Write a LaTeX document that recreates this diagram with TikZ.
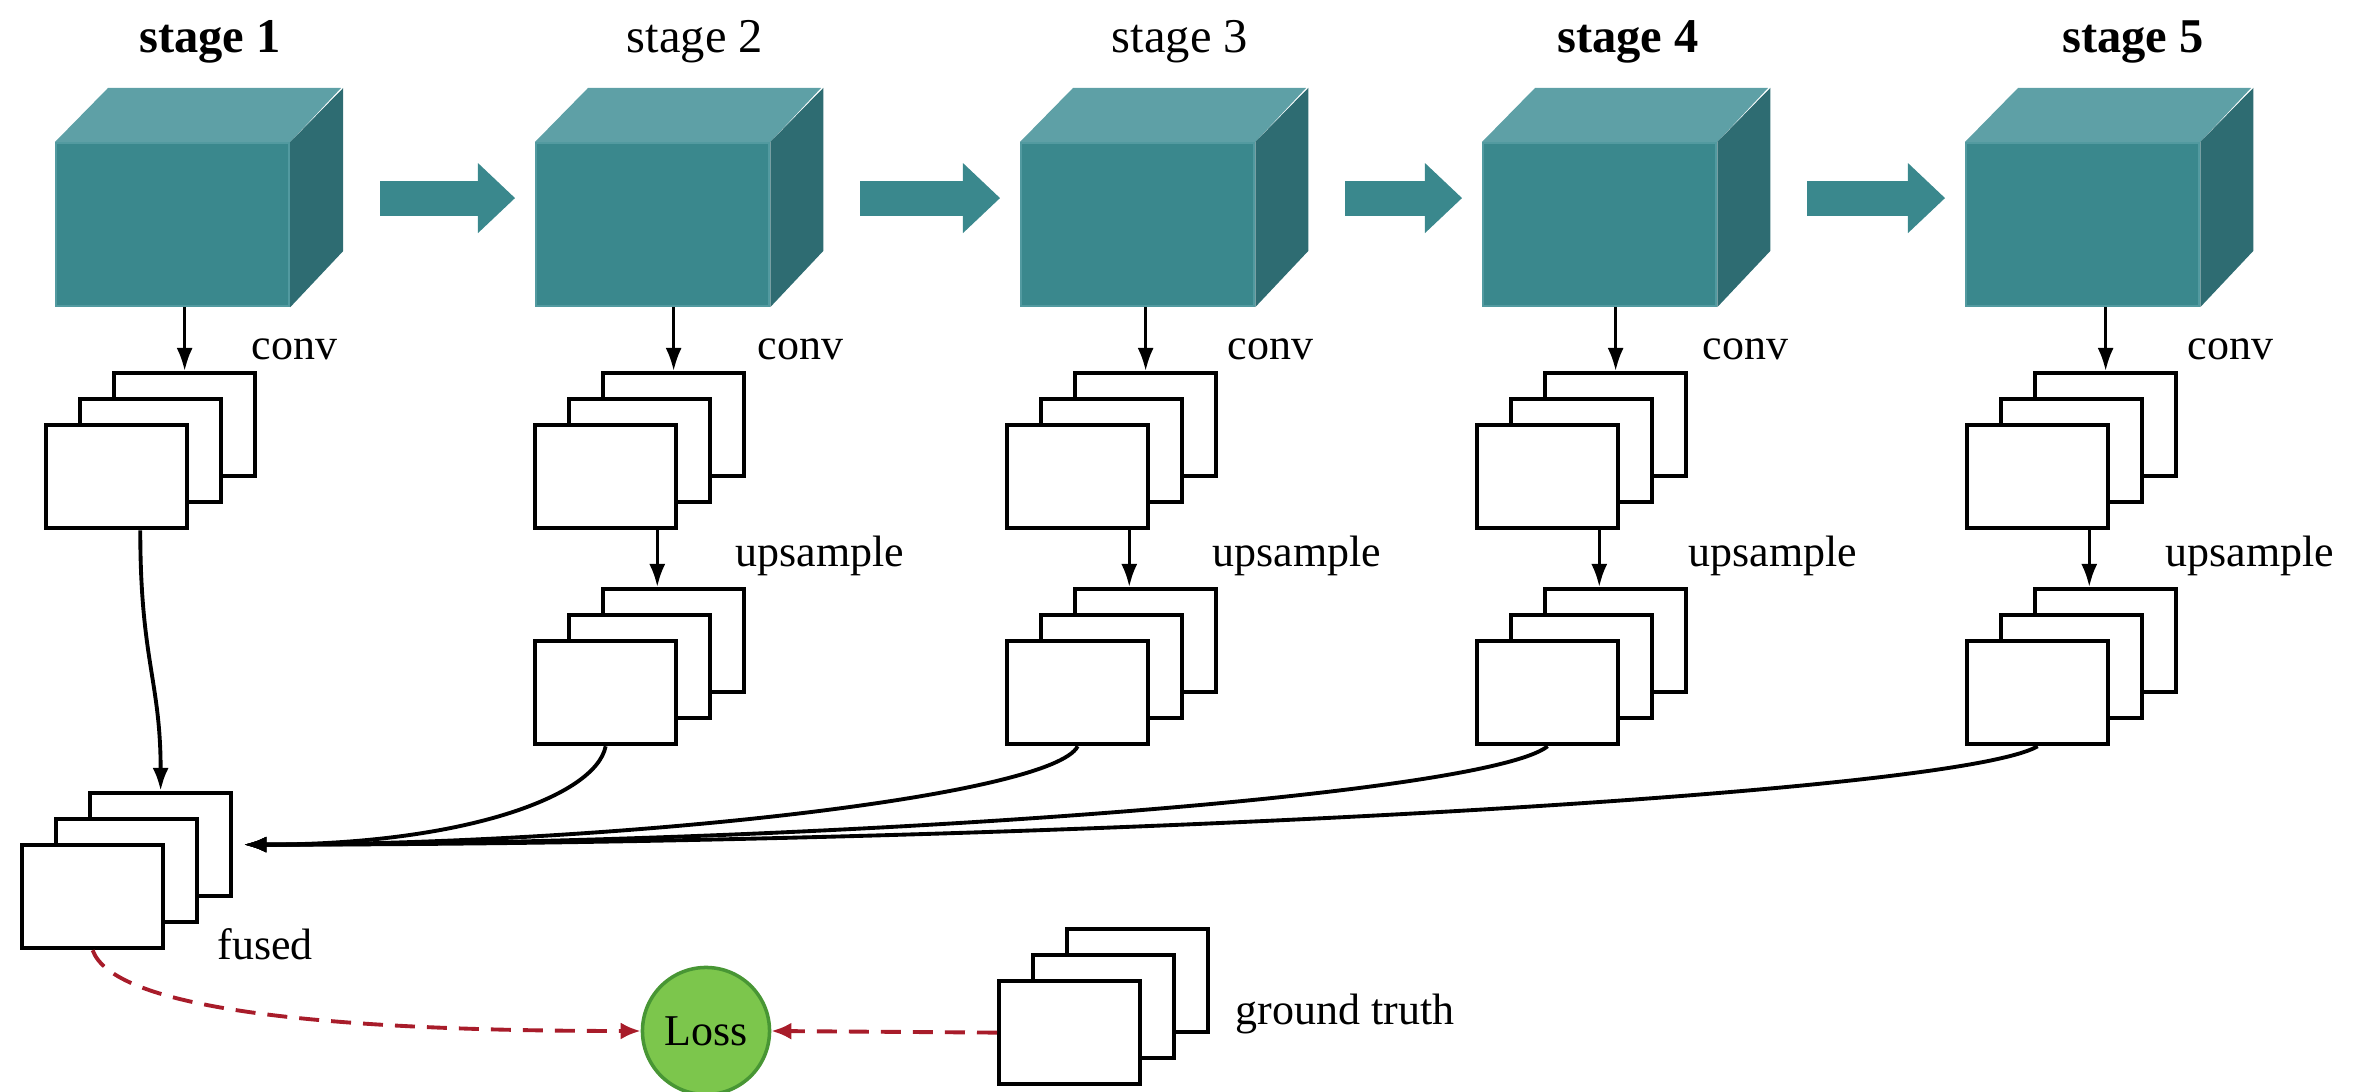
\documentclass[tikz,border=0pt]{standalone}
\usepackage{fontspec}
\setmainfont{Liberation Serif}
\usetikzlibrary{positioning,arrows.meta,calc}
\definecolor{tealfront}{RGB}{58,136,141}
\definecolor{tealtop}{RGB}{94,160,166}
\definecolor{tealside}{RGB}{46,108,114}
\definecolor{tealedge}{RGB}{82,154,160}
\definecolor{lossgreen}{RGB}{124,198,76}
\definecolor{lossedge}{RGB}{72,150,52}
\definecolor{dashred}{RGB}{168,28,42}

\tikzset{
  cubefront/.style={rectangle, fill=tealfront, draw=tealedge, line width=0.6pt,
    minimum width=2.33cm, minimum height=1.63cm, inner sep=0pt, anchor=north west},
  fmap/.style={rectangle, draw, fill=white, line width=1.2pt,
    minimum width=1.41cm, minimum height=1.03cm, inner sep=0pt, anchor=north west},
  arr/.style={-{Latex[length=2.3mm,width=1.6mm]}, line width=0.9pt},
  fuse/.style={arr, line width=1.1pt},
  fatarrow/.style={-{Triangle[length=0.37cm,width=0.7cm,line width=0pt]},
    line width=0.35cm, draw=tealfront},
  lossarr/.style={-{Latex[length=2mm,width=1.7mm]}, dash pattern=on 0.2cm off 0.12cm,
    line width=1.1pt, draw=dashred},
  stagelbl/.style={font=\fontsize{13.8}{16}\selectfont, inner sep=0pt, anchor=base},
  lbl/.style={font=\fontsize{12.5}{15}\selectfont, inner sep=0pt, anchor=base west},
  lossnode/.style={circle, fill=lossgreen, draw=lossedge, line width=1pt,
    minimum size=1.27cm, inner sep=0pt, font=\fontsize{12.5}{15}\selectfont}
}

% cube: name, x, y of the front face corner
\newcommand{\stagecube}[3]{%
  \node[cubefront] (#1) at (#2,#3) {};
  \fill[tealtop] (#1.north west) -- ++(53,-54) -- ++(233,0) -- (#1.north east) -- cycle;
  \fill[tealside] (#1.north east) -- ++(53,-54) -- ++(0,163) -- (#1.south east) -- cycle;
}
% three stacked maps: name, x, y of the front map corner
\newcommand{\fmapstack}[3]{%
  \coordinate (#1-o) at (#2,#3);
  \node[fmap] (#1-b) at ([shift={(68,-52)}]#1-o) {};
  \node[fmap] (#1-m) at ([shift={(34,-26)}]#1-o) {};
  \node[fmap] (#1-f) at (#1-o) {};
}

\begin{document}
\begin{tikzpicture}[x={(0.01cm,0)}, y={(0,-0.01cm)}]
  \useasboundingbox (0,0) rectangle (2356,1092);

  \foreach \k/\x in {1/55,2/535,3/1020,4/1482,5/1965}
    \stagecube{s\k}{\x}{142};
  \foreach \a/\b in {s1/s2,s2/s3,s3/s4,s4/s5}
    \draw[fatarrow] ([xshift=0.9cm,yshift=0.265cm]\a.east) -- ([xshift=-0.2cm,yshift=0.265cm]\b.west);

  \node[stagelbl] (st1) at (210,53) {\textbf{stage 1}};
  \node[stagelbl] (st2) at (695,53) {stage 2};
  \node[stagelbl] (st3) at (1180,53) {stage 3};
  \node[stagelbl] (st4) at (1628,53) {\textbf{stage 4}};
  \node[stagelbl] (st5) at (2133,53) {\textbf{stage 5}};

  \foreach \k/\x in {1/44,2/533,3/1005,4/1475,5/1965}
    \fmapstack{c\k}{\x}{423};
  \foreach \k/\x in {2/533,3/1005,4/1475,5/1965}
    \fmapstack{u\k}{\x}{639};
  \fmapstack{f}{20}{843}
  \fmapstack{g}{997}{979}

  \foreach \k/\x in {1/251,2/757,3/1227,4/1702,5/2187}
    \node[lbl] (cv\k) at (\x,360) {conv};
  \foreach \k/\x in {2/735,3/1212,4/1688,5/2165}
    \node[lbl] (up\k) at (\x,567) {upsample};
  \node[lbl] (fusedlbl) at (217,960) {fused};
  \node[lbl] (gtlbl) at (1235,1025) {ground truth};

  \node[lossnode] (loss) at (706,1031) {Loss};

  \foreach \k in {1,...,5}
    \draw[arr] (c\k-b.north |- s\k.south) -- (c\k-b.north);
  \foreach \k in {2,...,5}
    \draw[arr] ([xshift=-0.21cm]c\k-f.south east) -- ([xshift=-0.21cm]c\k-f.south east |- u\k-b.north);

  \draw[fuse] ([xshift=-0.49cm]c1-f.south east) .. controls +(0,130) and +(0,-110) .. (f-b.north);
  \draw[fuse] (u2-f.south) .. controls +(-10,50) and +(220,0) .. ([xshift=0.1cm]f-b.east);
  \draw[fuse] (u3-f.south) .. controls +(-25,50) and +(371,0) .. ([xshift=0.1cm]f-b.east);
  \draw[fuse] (u4-f.south) .. controls +(-63,50) and +(571,0) .. ([xshift=0.1cm]f-b.east);
  \draw[fuse] (u5-f.south) .. controls +(-86,50) and +(771,0) .. ([xshift=0.1cm]f-b.east);

  \draw[lossarr] (f-f.south) .. controls +(20,55) and +(-342,0) .. (loss.west);
  \draw[lossarr] (g-f.west) -- (loss.east);
\end{tikzpicture}
\end{document}
